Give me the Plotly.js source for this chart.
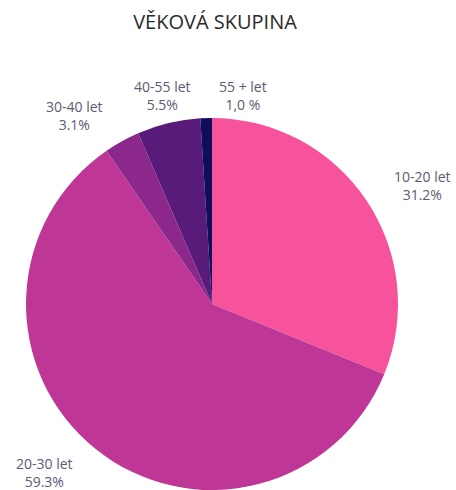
<!DOCTYPE html>
<html>
<head>
<meta charset="utf-8">
<script src="https://cdn.plot.ly/plotly-3.0.1.min.js"></script>
<style>html,body{margin:0;padding:0;background:#fff;}#chart{width:456px;height:490px;}</style>
</head>
<body>
<div id="chart"></div>
<script>
const categories = ["10-20 let", "20-30 let", "30-40 let", "40-55 let", "55 + let"];
const values = [31.2, 59.3, 3.1, 5.5, 1.0];
const valueLabels = ["31.2%", "59.3%", "3.1%", "5.5%", "1,0 %"];
const colors = ["#F7529C", "#BE3797", "#8C288B", "#581B7A", "#0E0E5C"];

const labelPos = [[422, 185], [44, 472], [74, 115], [162, 95], [243, 95]];
const W = 456, H = 490;
const annotations = categories.map((c, i) => ({
  text: c + "<br>" + valueLabels[i],
  x: labelPos[i][0] / W,
  y: 1 - labelPos[i][1] / H,
  xref: "paper", yref: "paper",
  xanchor: "center", yanchor: "middle",
  showarrow: false,
  align: "center",
  font: {family: "Open Sans, sans-serif", size: 14, color: "#5E5A74"}
}));

const data = [{
  type: "pie",
  labels: categories,
  values: values,
  sort: false,
  direction: "clockwise",
  rotation: 0,
  textinfo: "none",
  hoverinfo: "skip",
  marker: {colors: colors, line: {width: 0}},
  domain: {x: [26 / W, 398 / W], y: [0, 1 - 118 / H]}
}];

const layout = {
  width: W, height: H,
  margin: {l: 0, r: 0, t: 0, b: 0},
  paper_bgcolor: "#fff",
  showlegend: false,
  title: {
    text: "VĚKOVÁ SKUPINA",
    x: 215 / W, xanchor: "center",
    y: 1 - 22 / H, yanchor: "middle",
    font: {family: "Open Sans, sans-serif", size: 20, color: "#2a2a2a"}
  },
  annotations: annotations
};

Plotly.newPlot("chart", data, layout, {displayModeBar: false, staticPlot: true});
</script>
</body>
</html>
